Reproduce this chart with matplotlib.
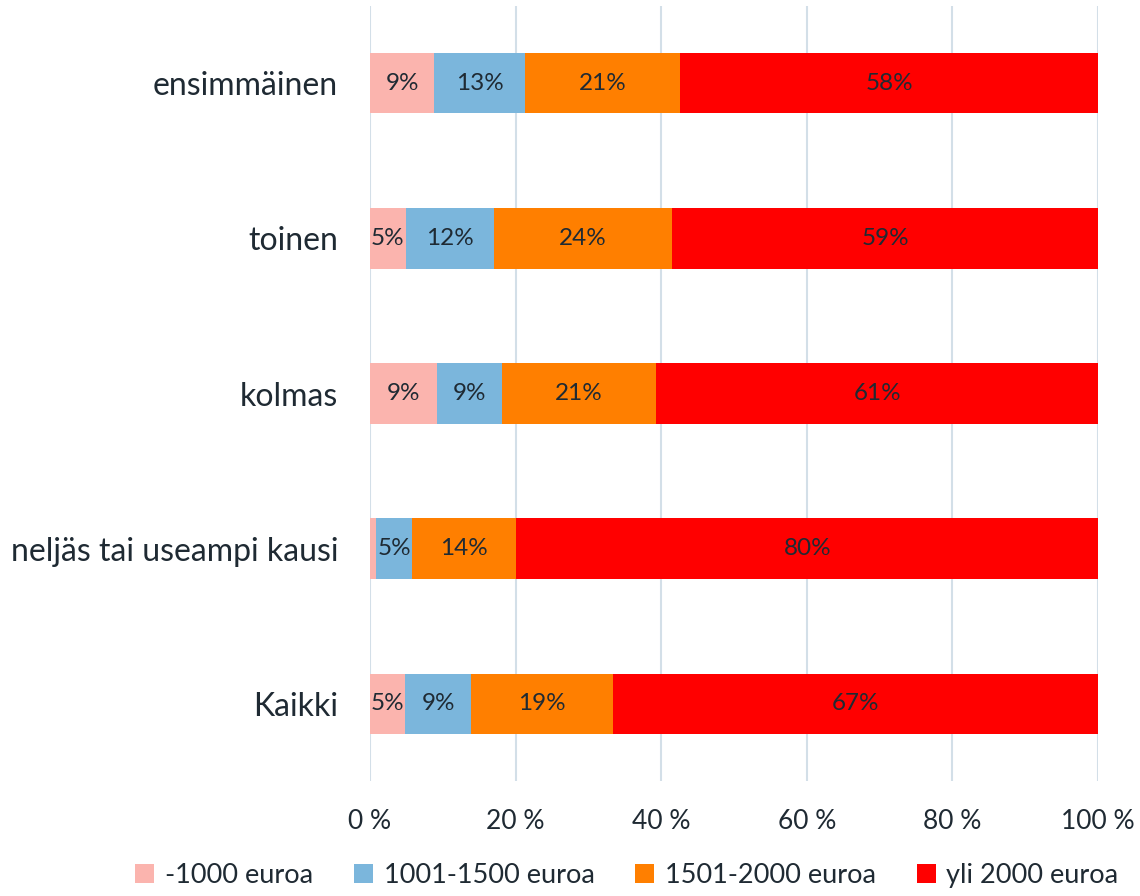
import matplotlib.pyplot as plt
import numpy as np

plt.rcParams['font.family'] = ['Lato', 'DejaVu Sans']

categories = ["ensimmäinen", "toinen", "kolmas", "neljäs tai useampi kausi", "Kaikki"]
series_names = ["-1000 euroa", "1001-1500 euroa", "1501-2000 euroa", "yli 2000 euroa"]
colors = ["#fbb4ae", "#7bb6dc", "#ff7f00", "#ff0000"]

under_1000 = [8.8, 4.9, 9.2, 0.8, 4.8]
from_1001_1500 = [12.5, 12.1, 8.9, 5.0, 9.1]
from_1501_2000 = [21.3, 24.5, 21.2, 14.3, 19.5]
over_2000 = [57.4, 58.5, 60.7, 79.9, 66.6]

labels = [
    ["9%", "5%", "9%", "", "5%"],
    ["13%", "12%", "9%", "5%", "9%"],
    ["21%", "24%", "21%", "14%", "19%"],
    ["58%", "59%", "61%", "80%", "67%"],
]

values = [under_1000, from_1001_1500, from_1501_2000, over_2000]
text_color = "#1f2a33"

fig = plt.figure(figsize=(11.4, 8.96), dpi=100)
ax = fig.add_axes([0.3246, 0.1278, 0.6386, 0.866])

y = np.arange(len(categories))
left = np.zeros(len(categories))
for vals, name, col, labs in zip(values, series_names, colors, labels):
    vals = np.array(vals)
    bars = ax.barh(y, vals, left=left, height=0.39, color=col, label=name, zorder=3)
    for i, b in enumerate(bars):
        if labs[i]:
            ax.text(left[i] + vals[i] / 2, y[i], labs[i], ha="center", va="center",
                    fontsize=17.5, color=text_color, zorder=4)
    left += vals

ax.set_xlim(0, 100)
ax.set_ylim(len(categories) - 0.5, -0.5)
ax.set_yticks(y)
ax.set_yticklabels(categories, fontsize=23, color=text_color)
ax.tick_params(axis="both", length=0)
ax.set_xticks(np.arange(0, 101, 20))
ax.set_xticklabels([f"{v} %" for v in range(0, 101, 20)], fontsize=19, color=text_color)
ax.tick_params(axis="y", pad=23)
ax.tick_params(axis="x", pad=20)
ax.grid(axis="x", color="#d3dfe8", linewidth=1.5, zorder=0)
for s in ax.spines.values():
    s.set_visible(False)

fig.legend(loc="lower center", bbox_to_anchor=(0.55, -0.018), ncol=4, frameon=False,
           fontsize=19.5, handlelength=0.7, handleheight=0.7, handletextpad=0.4,
           columnspacing=1.5, labelcolor=text_color)

fig.savefig("out.png", dpi=100)
